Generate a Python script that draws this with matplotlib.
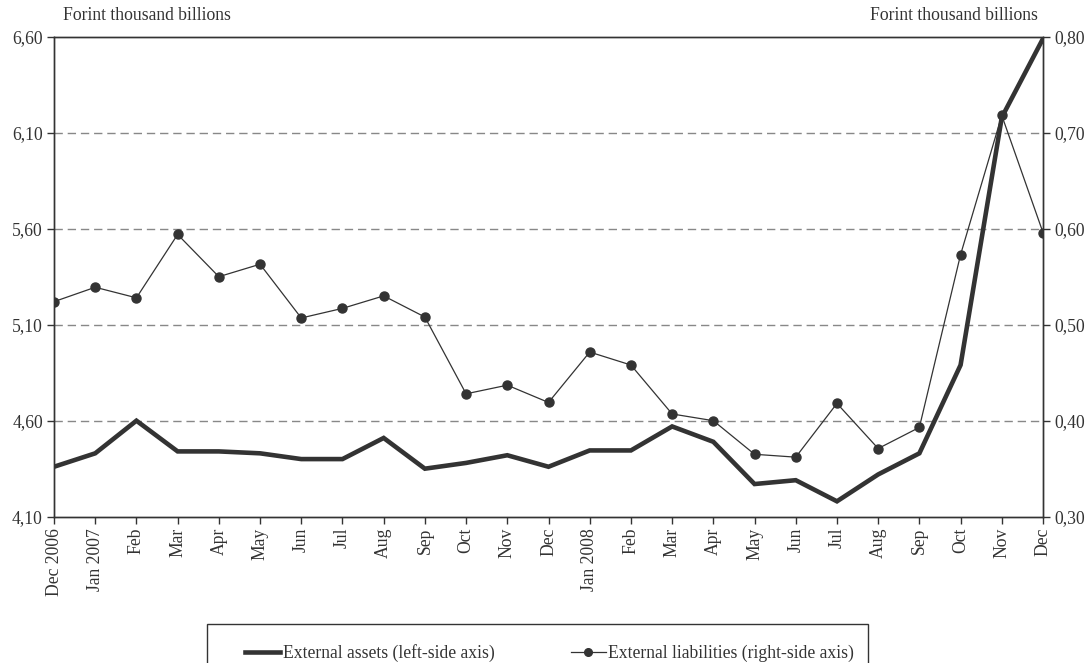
import matplotlib
matplotlib.use("Agg")
import matplotlib.pyplot as plt
from matplotlib.patches import Rectangle
from matplotlib.lines import Line2D
import numpy as np

plt.rcParams['font.family'] = ['Liberation Serif', 'DejaVu Serif']

months = ["Dec 2006", "Jan 2007", "Feb", "Mar", "Apr", "May", "Jun", "Jul", "Aug", "Sep",
          "Oct", "Nov", "Dec", "Jan 2008", "Feb", "Mar", "Apr", "May", "Jun", "Jul",
          "Aug", "Sep", "Oct", "Nov", "Dec"]

# Forint thousand billions, left axis
ext_assets = [4.36, 4.43, 4.60, 4.44, 4.44, 4.43, 4.40, 4.40, 4.51, 4.35,
              4.38, 4.42, 4.36, 4.445, 4.445, 4.57, 4.49, 4.27, 4.29, 4.18,
              4.32, 4.43, 4.89, 6.18, 6.59]

# Forint thousand billions, right axis
ext_liabs = [0.524, 0.539, 0.528, 0.594, 0.550, 0.563, 0.507, 0.517, 0.530, 0.508,
             0.428, 0.437, 0.419, 0.4715, 0.458, 0.407, 0.400, 0.365, 0.362, 0.418,
             0.371, 0.393, 0.573, 0.718, 0.596]

left_ticks = [4.10, 4.60, 5.10, 5.60, 6.10, 6.60]
right_ticks = [0.30, 0.40, 0.50, 0.60, 0.70, 0.80]

dark = "#333333"
fs = 12.7

fig = plt.figure(figsize=(10.91, 6.63), dpi=100)
ax = fig.add_axes([0.0495, 0.2207, 0.9065, 0.7239])
ax2 = ax.twinx()

x = np.arange(len(months))
ax.plot(x, ext_assets, color=dark, lw=3.3, solid_joinstyle="miter", zorder=3)
ax2.plot(x, ext_liabs, color=dark, lw=0.9, marker="o", ms=6.5, zorder=3)

ax.set_xlim(0, len(months) - 1)
ax.set_ylim(4.10, 6.60)
ax2.set_ylim(0.30, 0.80)

ax.set_yticks(left_ticks)
ax.set_yticklabels([f"{v:.2f}".replace(".", ",") for v in left_ticks], fontsize=fs, color=dark)
ax2.set_yticks(right_ticks)
ax2.set_yticklabels([f"{v:.2f}".replace(".", ",") for v in right_ticks], fontsize=fs, color=dark)
ax.set_xticks(x)
ax.set_xticklabels(months, rotation=90, fontsize=fs, color=dark)

for a in (ax, ax2):
    a.tick_params(direction="out", length=5, width=1, color=dark, pad=3)
    for s in a.spines.values():
        s.set_color(dark)
        s.set_linewidth(1)

for v in left_ticks[1:-1]:
    ax.axhline(v, color="#888888", lw=1, ls=(0, (6, 3.5)), zorder=1)

fig.text(63 / 1091, 1 - 15 / 663, "Forint thousand billions", fontsize=fs, color=dark,
         ha="left", va="center")
fig.text(1038 / 1091, 1 - 15 / 663, "Forint thousand billions", fontsize=fs, color=dark,
         ha="right", va="center")

# legend box, its bottom edge falls outside the picture
fig.patches.append(Rectangle((207 / 1091, -0.05), (868 - 207) / 1091, 0.05 + 39 / 663,
                             transform=fig.transFigure, fill=False, edgecolor=dark, lw=1))
handles = [Line2D([], [], color=dark, lw=3.3),
           Line2D([], [], color=dark, lw=0.9, marker="o", ms=5.5)]
fig.legend(handles, ["External assets (left-side axis)", "External liabilities (right-side axis)"],
           loc="center left", bbox_to_anchor=(245 / 1091, 1 - 653 / 663), ncol=2,
           frameon=False, fontsize=fs, handlelength=2.0, handletextpad=0.15,
           columnspacing=4.3, borderpad=0, borderaxespad=0, labelcolor=dark)

fig.savefig("out.png", dpi=100)
